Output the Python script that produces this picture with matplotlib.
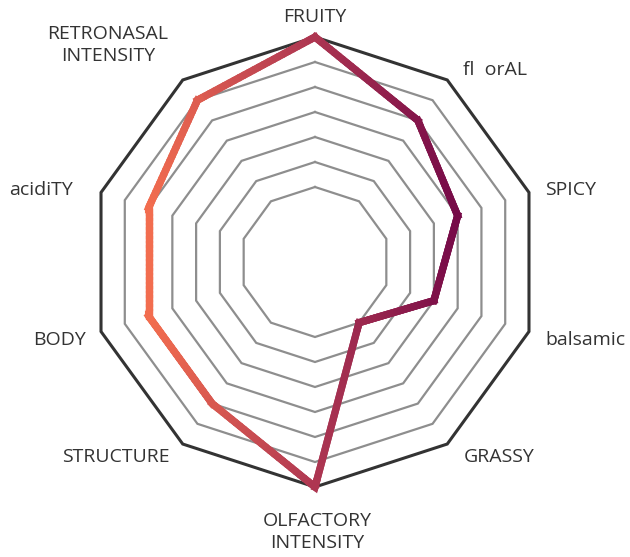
import numpy as np
import matplotlib
matplotlib.use("Agg")
import matplotlib.pyplot as plt
from matplotlib.collections import LineCollection
from matplotlib.colors import LinearSegmentedColormap

plt.rcParams['font.family'] = ['Open Sans', 'DejaVu Sans']

# 10 axes clockwise from the top
labels = ["FRUITY", "fl  orAL", "SPICY", "balsamic", "GRASSY",
          "OLFACTORY\nINTENSITY", "STRUCTURE", "BODY", "acidiTY",
          "RETRONASAL\nINTENSITY"]
values = [9, 7, 6, 5, 3, 9, 7, 7, 7, 8]
ring_levels = [3, 4, 5, 6, 7, 8, 9]

# label anchors (in data units) and alignment
label_pos = [(0, 9.8, "center"), (7.2, 7.68, "center"), (9.2, 2.88, "left"),
             (9.2, -3.12, "left"), (5.96, -7.8, "left"), (0.08, -10.8, "center"),
             (-5.8, -7.8, "right"), (-9.16, -3.12, "right"), (-9.7, 2.88, "right"),
             (-8.28, 8.68, "center")]

n = len(labels)
theta = np.pi / 2 - 2 * np.pi * np.arange(n) / n

fig = plt.figure(figsize=(6.3, 5.57), dpi=100)
ax = fig.add_axes([0, 0, 1, 1])
ax.set_xlim(-12.6, 12.6)
ax.set_ylim(-11.8, 10.48)
ax.set_aspect('equal')
ax.axis('off')

# decagon grid
for lev in ring_levels:
    xs = lev * np.cos(np.append(theta, theta[0]))
    ys = lev * np.sin(np.append(theta, theta[0]))
    if lev == ring_levels[-1]:
        ax.plot(xs, ys, color='#333333', lw=2.2, solid_joinstyle='miter', zorder=2)
    else:
        ax.plot(xs, ys, color='#8e8e8e', lw=1.6, solid_joinstyle='miter', zorder=1)

# data polygon with horizontal gradient
v = np.array(values, dtype=float)
px = v * np.cos(theta)
py = v * np.sin(theta)
cx = np.append(px, px[0])
cy = np.append(py, py[0])

cmap = LinearSegmentedColormap.from_list("wine", ["#f26d4f", "#b23a52", "#760a48"])
xmin, xmax = px.min(), px.max()
norm = plt.Normalize(xmin, xmax)

segs, cols = [], []
for i in range(n):
    t = np.linspace(0, 1, 25)
    sx = cx[i] + (cx[i + 1] - cx[i]) * t
    sy = cy[i] + (cy[i + 1] - cy[i]) * t
    pts = np.column_stack([sx, sy])
    for j in range(len(t) - 1):
        segs.append(pts[j:j + 2])
        cols.append(cmap(norm((sx[j] + sx[j + 1]) / 2)))
lc = LineCollection(segs, colors=cols, linewidths=5.2, capstyle='projecting',
                    antialiaseds=True, zorder=3)
ax.add_collection(lc)

# sharp corners
for i in range(n):
    a = (i - 1) % n
    b = (i + 1) % n
    k = 0.05
    xs = [px[i] + (px[a] - px[i]) * k, px[i], px[i] + (px[b] - px[i]) * k]
    ys = [py[i] + (py[a] - py[i]) * k, py[i], py[i] + (py[b] - py[i]) * k]
    ax.plot(xs, ys, color=cmap(norm(px[i])), lw=5.2, solid_joinstyle='miter',
            solid_capstyle='butt', zorder=4)

for lab, (x, y, ha) in zip(labels, label_pos):
    ax.text(x, y, lab, ha=ha, va='center', fontsize=14, color='#333333',
            linespacing=1.3, multialignment='center')

fig.savefig("out.png", dpi=100)
